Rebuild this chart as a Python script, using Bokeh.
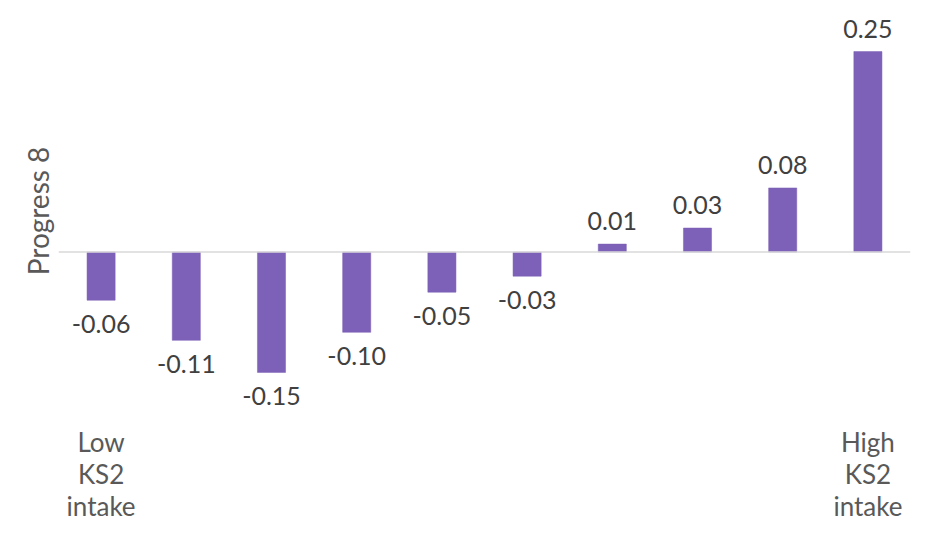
from bokeh.plotting import figure
from bokeh.models import Span, Range1d, FixedTicker
from bokeh.core.properties import value
from bokeh.embed import file_html
from bokeh.resources import INLINE

# ---- data ----
groups = [1, 2, 3, 4, 5, 6, 7, 8, 9, 10]          # KS2 intake groups, low -> high
progress8 = [-0.06, -0.11, -0.15, -0.10, -0.05, -0.03, 0.01, 0.03, 0.08, 0.25]
tick_positions = [1, 10]
tick_labels = ["Low\nKS2\nintake", "High\nKS2\nintake"]
y_label = "Progress 8"

BAR = "#7d60b7"
FONT = "Lato"

p = figure(x_range=Range1d(0.5, 10.5),
           y_range=Range1d(-0.2012, 0.3037),
           width=932, height=524,
           min_border_left=58, min_border_right=22,
           min_border_top=8, min_border_bottom=10,
           output_backend="svg", toolbar_location=None)

p.outline_line_color = None
p.background_fill_color = "white"
p.border_fill_color = "white"
p.grid.visible = False

p.vbar(x=groups, top=progress8, bottom=0, width=0.33,
       fill_color=BAR, line_color=BAR, line_width=0.5)

p.add_layout(Span(location=0, dimension="width", line_color="#d9d9d9", line_width=1.5))

pos = [i for i, v in enumerate(progress8) if v >= 0]
neg = [i for i, v in enumerate(progress8) if v < 0]
for idx, base, off in ((pos, "alphabetic", -23), (neg, "top", 15)):
    p.text(x=[groups[i] for i in idx], y=[progress8[i] for i in idx],
           text=["%.2f" % progress8[i] for i in idx],
           text_align="center", text_baseline=base, y_offset=off,
           text_font=value(FONT), text_font_size="25px", text_color="#404040")

# x axis: only first/last labels
p.xaxis.ticker = FixedTicker(ticks=tick_positions)
p.xaxis.major_label_overrides = dict(zip(tick_positions, tick_labels))
p.xaxis.axis_line_color = None
p.xaxis.major_tick_line_color = None
p.xaxis.minor_tick_line_color = None
p.xaxis.major_label_text_font = FONT
p.xaxis.major_label_text_font_size = "26px"
p.xaxis.major_label_text_color = "#595959"
p.xaxis.major_label_text_line_height = 1.0
p.xaxis.major_label_standoff = 6

# y axis: only title
p.yaxis.ticker = FixedTicker(ticks=[])
p.yaxis.axis_label = y_label
p.yaxis.axis_label_text_font = FONT
p.yaxis.axis_label_text_font_style = "normal"
p.yaxis.axis_label_text_font_size = "28px"
p.yaxis.axis_label_text_color = "#595959"
p.yaxis.axis_line_color = None
p.yaxis.major_tick_line_color = None
p.yaxis.minor_tick_line_color = None
p.yaxis.major_label_standoff = 0
p.yaxis.axis_label_standoff = 4

open("out.html", "w").write(file_html(p, INLINE))
